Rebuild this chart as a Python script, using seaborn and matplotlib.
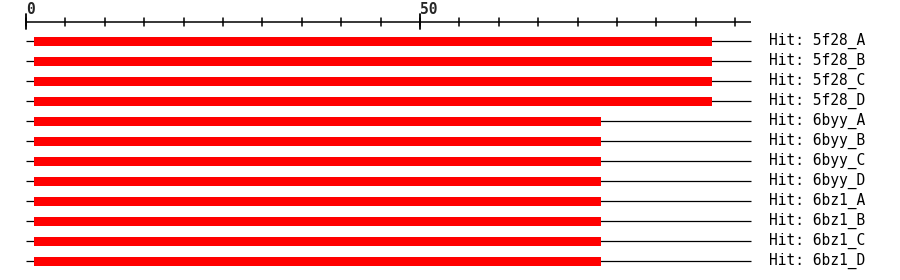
import matplotlib
matplotlib.use("Agg")
import matplotlib.pyplot as plt
import seaborn as sns
import numpy as np

# Data
hits = ["5f28_A", "5f28_B", "5f28_C", "5f28_D",
        "6byy_A", "6byy_B", "6byy_C", "6byy_D",
        "6bz1_A", "6bz1_B", "6bz1_C", "6bz1_D"]
hit_starts = [1, 1, 1, 1, 1, 1, 1, 1, 1, 1, 1, 1]
hit_ends = [87, 87, 87, 87, 73, 73, 73, 73, 73, 73, 73, 73]
query_length = 92
minor_step = 5
major_step = 50

sns.set_theme(style="white")
plt.rcParams['font.family'] = ['DejaVu Sans Mono', 'DejaVu Sans']

fig = plt.figure(figsize=(9, 2.8), dpi=100)
ax = fig.add_axes([0, 0, 1, 1])
px_per_unit = 7.88
x0_px = 26
ax.set_xlim(-x0_px / px_per_unit, (900 - x0_px) / px_per_unit)
ax.set_ylim(11.95, -2.05)
ax.axis("off")

rows = np.arange(len(hits))
# Black query lines
for r in rows:
    ax.plot([0, query_length], [r, r], color="black", lw=0.9,
            solid_capstyle="butt", zorder=1)
# Red hit bars
widths = [e - s for s, e in zip(hit_starts, hit_ends)]
ax.barh(rows, widths, left=hit_starts, height=0.45, color="#ff0000",
        linewidth=0, zorder=3)

# Labels
for r, h in zip(rows, hits):
    ax.text(94.3, r, f"Hit: {h}", fontsize=10.5, va="center", ha="left", color="black")

# Ruler
ruler_y = -0.97
ax.plot([0, query_length], [ruler_y, ruler_y], color="black", lw=1.1, solid_capstyle="butt")
for t in range(0, query_length + 1, minor_step):
    ax.plot([t, t], [ruler_y - 0.2, ruler_y + 0.2], color="black", lw=1.1)
for t in range(0, query_length + 1, major_step):
    ax.plot([t, t], [-1.35, -0.6], color="black", lw=1.3)
    ax.text(t, -1.58, str(t), fontsize=10.5, fontweight="bold", ha="left", va="center")

fig.savefig("out.png", dpi=100)
